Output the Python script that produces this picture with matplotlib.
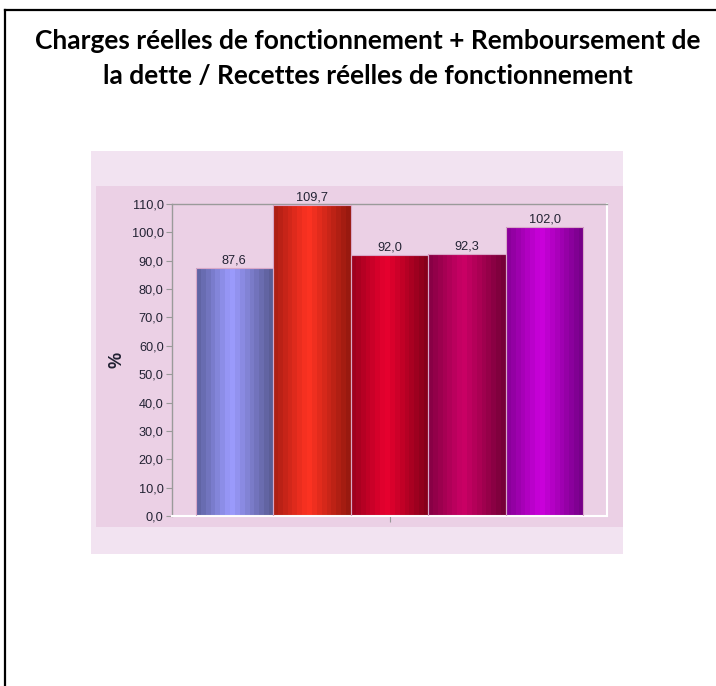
import numpy as np
import matplotlib.pyplot as plt
from matplotlib.patches import Rectangle
from matplotlib.colors import LinearSegmentedColormap
from matplotlib.lines import Line2D

# Data
values = [87.6, 109.7, 92.0, 92.3, 102.0]
# (edge left, highlight, edge right) for the cylinder-like shading of each bar
bar_shades = [
    ('#6064a4', '#9c9cff', '#5b5d96'),
    ('#ae1f14', '#ff3322', '#98190f'),
    ('#a0001e', '#e8002f', '#86001a'),
    ('#880045', '#cc0066', '#760038'),
    ('#8a009a', '#cc00dd', '#760088'),
]
y_ticks = np.arange(0, 111, 10)
title = "Charges réelles de fonctionnement + Remboursement de\nla dette / Recettes réelles de fonctionnement"

W, H = 716, 686
fig = plt.figure(figsize=(W / 100, H / 100), dpi=100)
fig.patch.set_facecolor('white')


def fx(px):
    return px / W


def fy(py):
    return 1 - py / H


# frame (only top and left edges are visible in the picture)
fig.add_artist(Line2D([fx(5), fx(5)], [fy(10), 0], color='black', lw=1.6))
fig.add_artist(Line2D([fx(5), 1], [fy(10), fy(10)], color='black', lw=1.6))

fig.text(fx(368), fy(58.5), title, ha='center', va='center', fontsize=19,
         fontweight='bold', family='Lato', linespacing=1.57, color='black')

# chart panels
fig.add_artist(Rectangle((fx(91), fy(554)), fx(532), 403 / H, transform=fig.transFigure,
                         facecolor='#f2e3f1', edgecolor='none', zorder=0))
fig.add_artist(Rectangle((fx(96), fy(527)), fx(527), 341 / H, transform=fig.transFigure,
                         facecolor='#ebd0e5', edgecolor='none', zorder=0))

ax = fig.add_axes([fx(172), fy(516), fx(435), 312 / H])
ax.set_facecolor('#ebd0e5')

x = np.arange(len(values))
bars = ax.bar(x, values, width=1.0, color='none', edgecolor='#d8a8c8', linewidth=0.8, zorder=3)

n_stripes = 16
for bar, shade in zip(bars, bar_shades):
    cmap = LinearSegmentedColormap.from_list('s', [(0, shade[0]), (0.45, shade[1]), (1, shade[2])])
    grad = cmap(np.linspace(0, 1, n_stripes))[np.newaxis, :, :]
    x0, w, h = bar.get_x(), bar.get_width(), bar.get_height()
    im = ax.imshow(grad, extent=[x0, x0 + w, 0, h], aspect='auto',
                   interpolation='nearest', zorder=2)
    im.set_clip_path(bar)
    ax.annotate(f"{h:.1f}".replace('.', ','), (x0 + w / 2, h), xytext=(0, 1),
                textcoords='offset points', ha='center', va='bottom',
                fontsize=9.2, family='Liberation Sans', color='#222233')

pad = 0.303
ax.set_xlim(-0.5 - pad, len(values) - 0.5 + pad)
ax.set_ylim(0, 110)

ax.set_yticks(y_ticks)
ax.set_yticklabels([f"{t:.1f}".replace('.', ',') for t in y_ticks],
                   fontsize=9.2, family='Liberation Sans', color='#222233')
ax.tick_params(axis='y', length=4, width=0.8, color='#999999', pad=2)
ax.set_xticks([(len(values) - 1) / 2])
ax.set_xticklabels([''])
ax.tick_params(axis='x', length=4, width=0.8, color='#999999', direction='out')

for s in ['left', 'top']:
    ax.spines[s].set_color('#9a9a9a')
    ax.spines[s].set_linewidth(1.0)
for s in ['bottom', 'right']:
    ax.spines[s].set_color('white')
    ax.spines[s].set_linewidth(1.5)

fig.text(fx(117), fy(360), '%', rotation=90, ha='center', va='center',
         fontsize=13, fontweight='bold', family='Liberation Sans', color='#222233')

fig.savefig('out.png', dpi=100, facecolor='white')
